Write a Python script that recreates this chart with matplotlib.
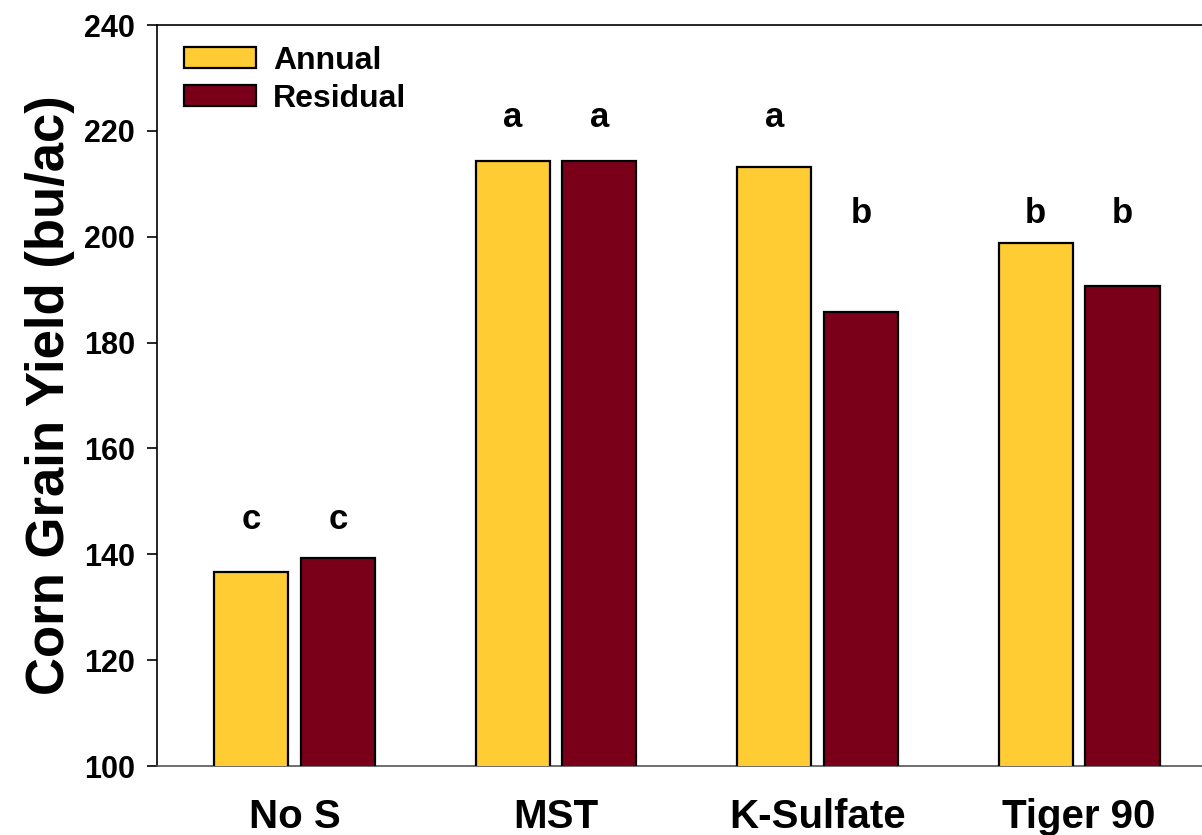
import matplotlib.pyplot as plt
import numpy as np

plt.rcParams['font.family'] = ['Liberation Sans', 'DejaVu Sans']
plt.rcParams['font.weight'] = 'bold'

treatments = ['No S', 'MST', 'K-Sulfate', 'Tiger 90']
annual = [136.7, 214.3, 213.2, 198.8]
residual = [139.3, 214.3, 185.8, 190.7]
annual_letters = ['c', 'a', 'a', 'b']
residual_letters = ['c', 'a', 'b', 'b']
letter_y = [146.5, 222.6, 222.6, 204.3]
residual_letter_y = [146.5, 222.6, 204.3, 204.3]

gold = '#FFCC33'
maroon = '#7A0019'

fig = plt.figure(figsize=(12.02, 8.35), dpi=100)
ax = fig.add_axes([0.1306, 0.0826, 0.8694, 0.8874])

x = np.arange(len(treatments))
w = 0.283
off = 0.166
ax.bar(x - off, annual, w, color=gold, edgecolor='black', linewidth=1.6,
       label='Annual', zorder=3)
ax.bar(x + off, residual, w, color=maroon, edgecolor='black', linewidth=1.6,
       label='Residual', zorder=3)

# significance letters above bars
for i in range(len(treatments)):
    ax.text(x[i] - off, letter_y[i], annual_letters[i], ha='center', va='center',
            fontsize=25, fontweight='bold')
    ax.text(x[i] + off, residual_letter_y[i], residual_letters[i], ha='center',
            va='center', fontsize=25, fontweight='bold')

ax.set_ylim(100, 240)
ax.set_xlim(-0.526, 3.47)
ax.set_yticks(np.arange(100, 241, 20))
ax.set_xticks(x)
ax.set_xticklabels(treatments, fontsize=29, fontweight='bold')
ax.tick_params(axis='x', length=0, pad=23)
ax.tick_params(axis='y', direction='out', length=7, width=1.2, labelsize=22, pad=9)
for lab in ax.get_yticklabels():
    lab.set_fontweight('bold')

ax.spines['right'].set_visible(False)
for s in ['left', 'top', 'bottom']:
    ax.spines[s].set_linewidth(1.2)
ax.spines['bottom'].set_color('#555555')

ax.set_ylabel('Corn Grain Yield (bu/ac)', fontsize=38, fontweight='bold')
ax.yaxis.set_label_coords(-0.078, 0.5)

leg = ax.legend(loc='upper left', bbox_to_anchor=(0.0258, 0.972), frameon=False,
                borderpad=0, borderaxespad=0,
                handlelength=2.25, handleheight=0.66, labelspacing=0.25,
                handletextpad=0.53, prop={'weight': 'bold', 'size': 23})

fig.savefig('out.png', dpi=100)
